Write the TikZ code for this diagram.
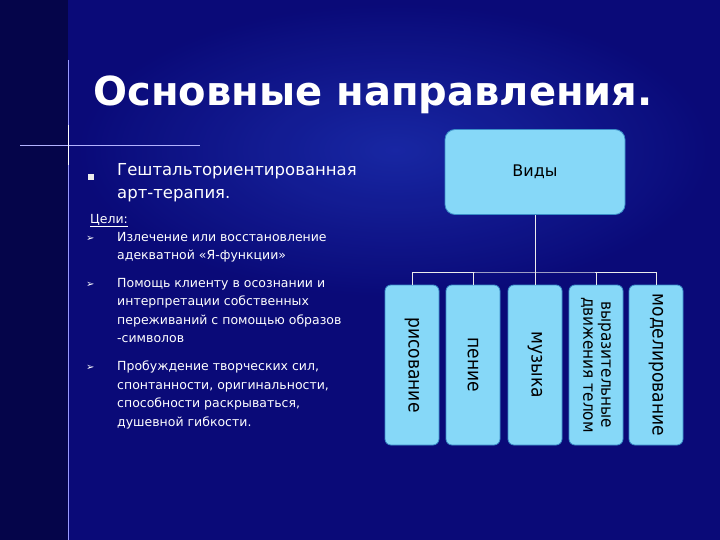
\documentclass[tikz,border=0pt]{standalone}
\usepackage{fontspec}
\setmainfont{DejaVu Sans}
\newfontfamily\condf{DejaVu Sans Condensed}
\definecolor{bgA}{HTML}{0A0A78}
\definecolor{bgB}{HTML}{1A2AA8}
\definecolor{bgL}{HTML}{05054A}
\definecolor{boxc}{HTML}{86D8F8}
\definecolor{boxd}{HTML}{3A8EC8}
\begin{document}
\begin{tikzpicture}[x=1pt,y=-1pt,
  vbox/.style={draw=boxd,fill=boxc,line width=0.8pt,rounded corners=6pt,minimum width=54pt,minimum height=160pt,inner sep=0pt},
  vtxt/.style={rotate=-90,font=\condf\fontsize{19}{19}\selectfont,text=black,align=center},
  body/.style={text=white,anchor=north west,align=left,inner sep=0pt},
  btxt/.style={body,font=\fontsize{12.5}{18.5}\selectfont},
  conn/.style={draw=white!85!gray,line width=0.8pt}]
\useasboundingbox (0,0) rectangle (720,540);
\fill[bgA] (0,0) rectangle (720,540);
\shade[inner color=bgB,outer color=bgA,opacity=0.9] (70,0) rectangle (720,300);
\fill[bgL] (0,0) rectangle (68,540);
\draw[white!60!blue,line width=0.8pt] (68,60) -- (68,540);
\draw[white!70!blue,line width=0.6pt] (20,145) -- (200,145);
\draw[white,line width=1pt] (68,125) -- (68,165);
\node (title) [anchor=west,text=white,font=\bfseries\fontsize{40}{40}\selectfont] at (90,95) {Основные направления.};
\node (b0) [fill=white!85!gray,minimum size=6pt,inner sep=0pt] at (91,177) {};
\node (t1) [body,font=\fontsize{16.5}{23}\selectfont] at (117,163) {Гештальториентированная\\арт-терапия.};
\node (t2) [btxt] at (90,214) {\underline{Цели:}};
\node (a1) [body,font=\fontsize{10}{10}\selectfont] at (86,236) {➢};
\node (t3) [btxt] at (117,232) {Излечение или восстановление\\адекватной «Я-функции»};
\node (a2) [body,font=\fontsize{10}{10}\selectfont] at (86,282) {➢};
\node (t4) [btxt] at (117,278) {Помощь клиенту в осознании и\\интерпретации собственных\\переживаний с помощью образов\\-символов};
\node (a3) [body,font=\fontsize{10}{10}\selectfont] at (86,365) {➢};
\node (t5) [btxt] at (117,361) {Пробуждение творческих сил,\\спонтанности, оригинальности,\\способности раскрываться,\\душевной гибкости.};
\node (vid) [draw=boxd,fill=boxc,line width=0.8pt,rounded corners=10pt,minimum width=180pt,minimum height=85pt,font=\fontsize{16}{16}\selectfont,text=black] at (535,172) {Виды};
\node (v1) [vbox] at (412,365) {};
\node (v2) [vbox] at (473,365) {};
\node (v3) [vbox] at (535,365) {};
\node (v4) [vbox] at (596,365) {};
\node (v5) [vbox] at (656,365) {};
\node[vtxt] at (v1) {рисование};
\node[vtxt] at (v2) {пение};
\node[vtxt] at (v3) {музыка};
\node[vtxt,font=\condf\fontsize{17}{18}\selectfont] at (v4) {выразительные\\движения телом};
\node[vtxt] at (v5) {моделирование};
\coordinate (h) at (535,272);
\draw[conn] (vid.south) -- (h);
\draw[conn] (v1.north) |- (h) -| (v5.north);
\foreach \v in {v2,v3,v4} \draw[conn] (\v.north) -- (\v.north |- h);
\end{tikzpicture}
\end{document}
